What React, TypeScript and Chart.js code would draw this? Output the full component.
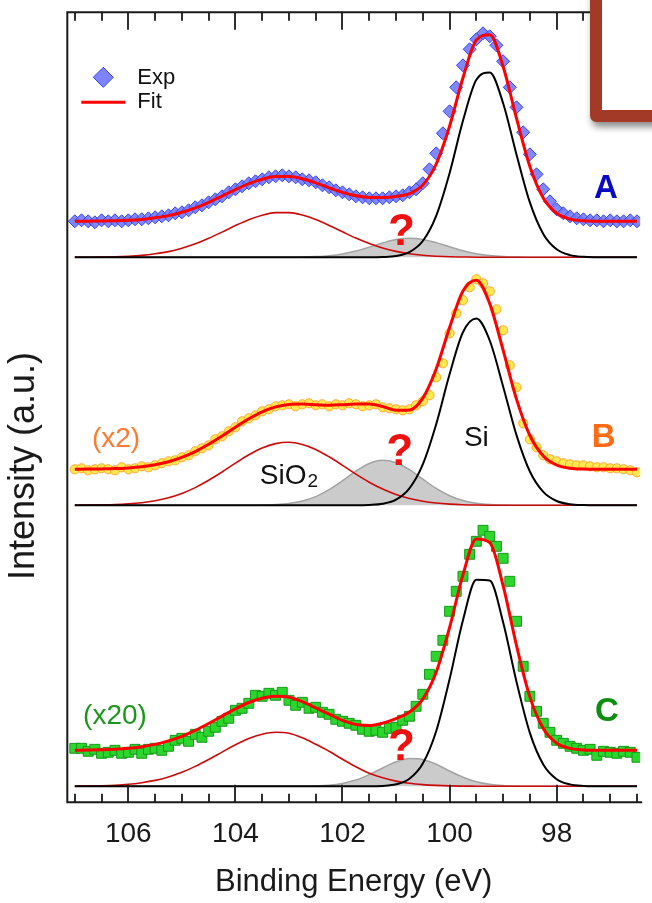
import React, { useEffect, useRef } from 'react';
import { Chart, registerables } from 'chart.js';

Chart.register(...registerables);

const FONT = '"Liberation Sans", Arial, Helvetica, sans-serif';

// ---------- axis ----------
const X_MIN = 96.44;
const X_MAX = 107.14;
const Y_MIN = 0;
const Y_MAX = 790;
const X_TITLE = 'Binding Energy (eV)';
const Y_TITLE = 'Intensity (a.u.)';

// vertical offsets (baselines) of the three stacked spectra
const OFFSET_A = 545;
const OFFSET_B = 297;
const OFFSET_C = 16;

// energy grid for fit / component curves (eV)
const GRID = [107, 106.75, 106.5, 106.25, 106, 105.75, 105.5, 105.25, 105, 104.75, 104.5, 104.25, 104, 103.75, 103.5, 103.25, 103, 102.75, 102.5, 102.25, 102, 101.75, 101.5, 101.25, 101, 100.75, 100.5, 100.25, 100, 99.75, 99.5, 99.25, 99, 98.75, 98.5, 98.25, 98, 97.75, 97.5, 97.25, 97, 96.75, 96.5];

// energy channels of the measured points (eV)
const EXP_E = [107, 106.875, 106.75, 106.625, 106.5, 106.375, 106.25, 106.125, 106, 105.875, 105.75, 105.625, 105.5, 105.375, 105.25, 105.125, 105, 104.875, 104.75, 104.625, 104.5, 104.375, 104.25, 104.125, 104, 103.875, 103.75, 103.625, 103.5, 103.375, 103.25, 103.125, 103, 102.875, 102.75, 102.625, 102.5, 102.375, 102.25, 102.125, 102, 101.875, 101.75, 101.625, 101.5, 101.375, 101.25, 101.125, 101, 100.875, 100.75, 100.625, 100.5, 100.375, 100.25, 100.125, 100, 99.875, 99.75, 99.625, 99.5, 99.375, 99.25, 99.125, 99, 98.875, 98.75, 98.625, 98.5, 98.375, 98.25, 98.125, 98, 97.875, 97.75, 97.625, 97.5, 97.375, 97.25, 97.125, 97, 96.875, 96.75, 96.625, 96.5];

// ---------- spectrum A ----------
const A_EXP = [
  36, 37, 36, 35, 37, 36, 37, 36, 37, 38,
  38, 39, 40, 41, 42, 44, 45, 47, 50, 52,
  55, 58, 61, 65, 68, 71, 74, 76, 78, 80,
  81, 82, 81, 80, 78, 77, 75, 72, 70, 67,
  65, 63, 61, 60, 59, 59, 59, 60, 61, 62,
  65, 68, 74, 88, 104, 124, 146, 170, 192, 208,
  218, 224, 221, 212, 196, 170, 150, 125, 103, 83,
  68, 56, 48, 44, 41, 39, 38, 37, 37, 36,
  37, 36, 36, 37, 36,
];
const A_FIT = [36.0, 36.1, 36.3, 36.5, 37.0, 37.9, 39.5, 41.7, 45.1, 49.5, 55.0, 61.2, 67.7, 73.6, 78.1, 80.7, 80.7, 78.5, 74.5, 69.5, 64.9, 61.5, 59.9, 59.8, 60.9, 63.7, 72.2, 93.3, 131.1, 179.5, 217.3, 222.6, 190.8, 139.1, 90.9, 59.4, 44.0, 38.2, 36.5, 36.1, 36.0, 36.0, 36.0];
const A_SIO2 = [0.1, 0.1, 0.3, 0.5, 1.0, 1.9, 3.5, 5.7, 9.1, 13.5, 19.0, 25.2, 31.7, 37.6, 42.1, 44.7, 44.7, 42.3, 37.8, 31.9, 25.5, 19.2, 13.7, 9.2, 5.9, 3.5, 2.0, 1.1, 0.5, 0.3, 0.1, 0, 0, 0, 0, 0, 0, 0, 0, 0, 0, 0, 0];
const A_SUB = [0, 0, 0, 0, 0, 0, 0, 0, 0, 0, 0, 0, 0, 0, 0, 0, 0, 0.2, 0.7, 1.6, 3.4, 6.3, 10.2, 14.3, 17.7, 19.0, 17.9, 14.7, 10.5, 6.6, 3.6, 1.7, 0.7, 0.3, 0, 0, 0, 0, 0, 0, 0, 0, 0];
const A_SI = [0, 0, 0, 0, 0, 0, 0, 0, 0, 0, 0, 0, 0, 0, 0, 0, 0, 0, 0, 0, 0, 0, 0, 0.3, 1.3, 5.2, 16.3, 41.5, 84.1, 136.6, 177.6, 184.9, 154.1, 102.8, 54.9, 23.4, 8.0, 2.2, 0.5, 0.1, 0, 0, 0];

// ---------- spectrum B (x2) ----------
const B_EXP = [
  36, 37, 35, 36, 37, 36, 35, 38, 36, 37,
  39, 38, 40, 42, 44, 45, 48, 50, 54, 57,
  60, 66, 69, 74, 78, 84, 87, 90, 94, 96,
  99, 100, 101, 99, 101, 102, 100, 101, 99, 101,
  100, 102, 101, 99, 100, 101, 98, 97, 96, 95,
  96, 100, 104, 110, 128, 142, 172, 192, 205, 218,
  226, 222, 214, 196, 175, 140, 118, 82, 66, 58,
  50, 46, 44, 42, 41, 40, 40, 39, 38, 38,
  37, 37, 36, 35, 33,
];
const B_FIT = [36.1, 36.2, 36.4, 36.7, 37.4, 38.6, 40.6, 43.6, 47.9, 53.7, 61.0, 69.3, 78.1, 86.5, 93.5, 98.4, 100.8, 101.2, 100.6, 100.1, 100.6, 101.3, 101.3, 98.8, 95.1, 95.4, 107.2, 136.3, 177.8, 214.4, 225.1, 201.7, 155.2, 106.2, 69.8, 49.4, 40.3, 37.1, 36.2, 36.0, 36.0, 36.0, 36.0];
const B_SIO2 = [0.1, 0.2, 0.4, 0.7, 1.4, 2.6, 4.6, 7.6, 11.9, 17.7, 25.0, 33.3, 42.1, 50.5, 57.3, 61.7, 63.0, 60.9, 55.9, 48.5, 40.0, 31.2, 23.1, 16.2, 10.8, 6.8, 4.1, 2.3, 1.2, 0.6, 0.3, 0.1, 0, 0, 0, 0, 0, 0, 0, 0, 0, 0, 0];
const B_SUB = [0, 0, 0, 0, 0, 0, 0, 0, 0, 0, 0, 0, 0, 0, 0.2, 0.7, 1.8, 4.3, 8.7, 15.6, 24.6, 34.1, 41.8, 45.0, 42.6, 35.6, 26.1, 16.9, 9.6, 4.8, 2.1, 0.8, 0.3, 0, 0, 0, 0, 0, 0, 0, 0, 0, 0];
const B_SI = [0, 0, 0, 0, 0, 0, 0, 0, 0, 0, 0, 0, 0, 0, 0, 0, 0, 0, 0, 0, 0, 0, 0.4, 1.6, 5.7, 17.0, 41.0, 81.1, 131.0, 173.0, 186.7, 164.8, 118.9, 70.2, 33.8, 13.4, 4.3, 1.1, 0.2, 0, 0, 0, 0];

// ---------- spectrum C (x20) ----------
const C_EXP = [
  38, 38, 35, 37, 33, 34, 36, 33, 34, 37,
  33, 37, 38, 36, 40, 46, 48, 45, 52, 49,
  55, 59, 65, 68, 76, 78, 83, 91, 90, 93,
  91, 94, 86, 81, 84, 78, 79, 74, 72, 67,
  65, 63, 61, 57, 55, 56, 54, 58, 59, 66,
  70, 80, 92, 112, 130, 146, 175, 195, 210, 232,
  245, 256, 250, 240, 228, 205, 165, 120, 90, 75,
  63, 54, 46, 43, 40, 38, 36, 37, 31, 35,
  34, 33, 35, 34, 29,
];
const C_FIT = [36.1, 36.3, 36.6, 37.1, 38.0, 39.6, 41.9, 45.4, 50.0, 55.9, 62.8, 70.2, 77.5, 83.8, 88.1, 90.0, 89.0, 84.6, 78.4, 72.1, 65.9, 61.8, 60.7, 63.2, 67.7, 74.3, 87.2, 114.0, 158.7, 211.4, 247.3, 243.7, 200.7, 140.8, 89.4, 57.8, 43.1, 37.9, 36.4, 36.1, 36.0, 36.0, 36.0];
const C_SIO2 = [0.1, 0.3, 0.6, 1.1, 2.0, 3.6, 5.9, 9.4, 14.0, 19.9, 26.8, 34.2, 41.5, 47.8, 52.1, 54.0, 53.0, 48.5, 42.0, 35.0, 27.0, 19.5, 13.0, 8.5, 5.2, 3.0, 1.7, 0.9, 0.4, 0.2, 0.1, 0, 0, 0, 0, 0, 0, 0, 0, 0, 0, 0, 0];
const C_SUB = [0, 0, 0, 0, 0, 0, 0, 0, 0, 0, 0, 0, 0, 0, 0, 0, 0, 0, 0.4, 1.1, 2.9, 6.3, 11.7, 18.3, 24.5, 27.8, 26.8, 22.0, 15.3, 9.1, 4.6, 2.0, 0.7, 0.2, 0, 0, 0, 0, 0, 0, 0, 0, 0];
const C_SI = [0, 0, 0, 0, 0, 0, 0, 0, 0, 0, 0, 0, 0, 0, 0, 0, 0, 0, 0, 0, 0, 0, 0, 0.4, 2.0, 7.5, 22.7, 55.1, 107.0, 166.1, 206.6, 205.7, 164.0, 104.6, 53.4, 21.8, 7.1, 1.9, 0.4, 0.1, 0, 0, 0];

// ---------- annotation texts (energy, intensity in axis units) ----------
const LABELS = [
  { text: 'A', e: 97.08, v: 613, color: '#0A0AC4', size: 33, bold: true },
  { text: 'B', e: 97.12, v: 364, color: '#FF6A14', size: 33, bold: true },
  { text: 'C', e: 97.06, v: 90, color: '#0E8E0E', size: 33, bold: true },
  { text: '(x2)', e: 106.23, v: 363, color: '#FF7A2E', size: 28, bold: false },
  { text: '(x20)', e: 106.25, v: 86, color: '#1E961E', size: 28, bold: false },
  { text: 'Si', e: 99.5, v: 364, color: '#111111', size: 28, bold: false },
  { text: '?', e: 100.9, v: 569, color: '#F01010', size: 44, bold: true },
  { text: '?', e: 100.93, v: 349, color: '#F01010', size: 44, bold: true },
  { text: '?', e: 100.9, v: 54, color: '#F01010', size: 44, bold: true },
];
const SIO2_LABEL = { e: 103.01, v: 326 };
const Y_TITLE_POS = { x: 24, y: 466, size: 36 };

const AXIS_COLOR = '#1a1a1a';

function toPts(xs: number[], ys: number[], off: number) {
  return ys.map((y, i) => ({ x: xs[i], y: y + off }));
}

type Panel = {
  exp: number[]; fit: number[]; sio2: number[]; sub: number[]; si: number[]; off: number;
  marker: { style: string; radius: number; bg: string; border: string };
};

const PANELS: Panel[] = [
  { exp: A_EXP, fit: A_FIT, sio2: A_SIO2, sub: A_SUB, si: A_SI, off: OFFSET_A,
    marker: { style: 'rectRot', radius: 6.5, bg: 'rgba(112,118,255,0.88)', border: '#3444F2' } },
  { exp: B_EXP, fit: B_FIT, sio2: B_SIO2, sub: B_SUB, si: B_SI, off: OFFSET_B,
    marker: { style: 'circle', radius: 4.6, bg: '#FFE94E', border: '#FFA630' } },
  { exp: C_EXP, fit: C_FIT, sio2: C_SIO2, sub: C_SUB, si: C_SI, off: OFFSET_C,
    marker: { style: 'rect', radius: 7, bg: '#2CD62C', border: '#17991A' } },
];

function buildDatasets() {
  const ds: any[] = [];
  PANELS.forEach((p) => {
    ds.push({
      label: 'sub', data: toPts(GRID, p.sub, p.off), borderColor: '#A3A3A3', borderWidth: 1.5,
      backgroundColor: 'rgba(200,200,200,0.95)', fill: { value: p.off }, pointRadius: 0,
      cubicInterpolationMode: 'monotone', order: 4,
    });
    ds.push({
      label: 'SiO2', data: toPts(GRID, p.sio2, p.off), borderColor: '#CC0A0A', borderWidth: 1.6,
      fill: false, pointRadius: 0, cubicInterpolationMode: 'monotone', order: 3,
    });
    ds.push({
      label: 'Si', data: toPts(GRID, p.si, p.off), borderColor: '#000000', borderWidth: 2,
      fill: false, pointRadius: 0, cubicInterpolationMode: 'monotone', order: 2,
    });
    ds.push({
      label: 'Exp', data: toPts(EXP_E, p.exp, p.off), showLine: false,
      pointStyle: p.marker.style, pointRadius: p.marker.radius,
      pointBackgroundColor: p.marker.bg, pointBorderColor: p.marker.border, pointBorderWidth: 1,
      order: 1,
    });
    ds.push({
      label: 'Fit', data: toPts(GRID, p.fit, p.off), borderColor: '#FF0000', borderWidth: 3,
      fill: false, pointRadius: 0, cubicInterpolationMode: 'monotone', order: 0,
    });
  });
  return ds;
}

const decorPlugin = {
  id: 'decor',
  afterDraw(chart: any) {
    const { ctx, chartArea: ca, scales } = chart;
    const xs = scales.x;
    const ys = scales.y;
    ctx.save();

    // frame
    ctx.strokeStyle = AXIS_COLOR;
    ctx.lineWidth = 2;
    ctx.beginPath();
    ctx.moveTo(ca.right + 2, ca.top);
    ctx.lineTo(ca.left, ca.top);
    ctx.lineTo(ca.left, ca.bottom);
    ctx.lineTo(ca.right + 2, ca.bottom);
    ctx.stroke();

    // inward ticks top & bottom
    ctx.lineWidth = 1.8;
    xs.ticks.forEach((t: any) => {
      const v = t.value;
      if (Math.abs(v * 2 - Math.round(v * 2)) > 1e-6) return;
      const major = Math.abs(v / 2 - Math.round(v / 2)) < 1e-6;
      const len = major ? 17.5 : 8.5;
      const px = Math.round(xs.getPixelForValue(v));
      ctx.beginPath();
      ctx.moveTo(px, ca.bottom);
      ctx.lineTo(px, ca.bottom - len);
      ctx.moveTo(px, ca.top);
      ctx.lineTo(px, ca.top + len);
      ctx.stroke();
    });

    // y axis title
    ctx.save();
    ctx.translate(Y_TITLE_POS.x, Y_TITLE_POS.y);
    ctx.rotate(-Math.PI / 2);
    ctx.font = `${Y_TITLE_POS.size}px ${FONT}`;
    ctx.fillStyle = AXIS_COLOR;
    ctx.textAlign = 'center';
    ctx.textBaseline = 'middle';
    ctx.fillText(Y_TITLE, 0, 0);
    ctx.restore();

    // annotation texts
    ctx.textAlign = 'center';
    ctx.textBaseline = 'middle';
    LABELS.forEach((l) => {
      ctx.font = `${l.bold ? 'bold ' : ''}${l.size}px ${FONT}`;
      ctx.fillStyle = l.color;
      ctx.fillText(l.text, xs.getPixelForValue(l.e), ys.getPixelForValue(l.v));
    });
    // SiO2 with subscript
    {
      const cx = xs.getPixelForValue(SIO2_LABEL.e);
      const cy = ys.getPixelForValue(SIO2_LABEL.v);
      ctx.font = `28px ${FONT}`;
      const w1 = ctx.measureText('SiO').width;
      ctx.font = `19px ${FONT}`;
      const w2 = ctx.measureText('2').width;
      const x0 = cx - (w1 + w2) / 2;
      ctx.textAlign = 'left';
      ctx.fillStyle = '#111111';
      ctx.font = `28px ${FONT}`;
      ctx.fillText('SiO', x0, cy);
      ctx.font = `19px ${FONT}`;
      ctx.fillText('2', x0 + w1 + 1, cy + 5);
    }

    // legend
    const lx = ca.left;
    const ly = ca.top;
    ctx.fillStyle = 'rgba(112,118,255,0.9)';
    ctx.strokeStyle = '#3444F2';
    ctx.lineWidth = 1;
    const dx = lx + 36, dy = ly + 65;
    ctx.beginPath();
    ctx.moveTo(dx - 10, dy);
    ctx.lineTo(dx, dy - 10);
    ctx.lineTo(dx + 10, dy);
    ctx.lineTo(dx, dy + 10);
    ctx.closePath();
    ctx.fill();
    ctx.stroke();
    ctx.strokeStyle = '#FF0000';
    ctx.lineWidth = 3;
    ctx.beginPath();
    ctx.moveTo(lx + 14, ly + 90);
    ctx.lineTo(lx + 58, ly + 90);
    ctx.stroke();
    ctx.fillStyle = '#111111';
    ctx.font = `22px ${FONT}`;
    ctx.textAlign = 'left';
    ctx.textBaseline = 'middle';
    ctx.fillText('Exp', lx + 70, dy + 1);
    ctx.fillText('Fit', lx + 70, ly + 90);

    // brown callout box (top-right)
    ctx.shadowColor = 'rgba(0,0,0,0.45)';
    ctx.shadowBlur = 7;
    ctx.shadowOffsetX = 2;
    ctx.shadowOffsetY = 5;
    ctx.fillStyle = '#A23A27';
    const bx = 590, by = -40, bw = 140, bh = 162, r = 7;
    ctx.beginPath();
    ctx.moveTo(bx, by);
    ctx.lineTo(bx + bw, by);
    ctx.lineTo(bx + bw, by + bh);
    ctx.lineTo(bx + r, by + bh);
    ctx.quadraticCurveTo(bx, by + bh, bx, by + bh - r);
    ctx.closePath();
    ctx.fill();
    ctx.shadowColor = 'transparent';
    ctx.shadowBlur = 0;
    ctx.shadowOffsetX = 0;
    ctx.shadowOffsetY = 0;
    ctx.fillStyle = '#FFFFFF';
    ctx.fillRect(602, by, 200, 110 - by);

    ctx.restore();
  },
};

export default function App() {
  const ref = useRef<HTMLCanvasElement | null>(null);
  useEffect(() => {
    document.body.style.margin = '0';
    const canvas = ref.current;
    if (!canvas) return;
    const chart = new Chart(canvas, {
      type: 'line',
      data: { datasets: buildDatasets() },
      options: {
        animation: false,
        responsive: false,
        devicePixelRatio: 1,
        layout: { padding: { top: 12.3, left: 0, right: 0, bottom: 0 } },
        plugins: { legend: { display: false }, tooltip: { enabled: false } },
        elements: { line: { tension: 0 } },
        scales: {
          x: {
            type: 'linear', min: X_MIN, max: X_MAX, reverse: true,
            grid: { display: false, drawTicks: false },
            border: { display: false },
            ticks: {
              stepSize: 0.5, includeBounds: false, autoSkip: false, maxRotation: 0, minRotation: 0,
              padding: 15, color: AXIS_COLOR, font: { family: FONT, size: 28 },
              callback: (v: any) => (Math.abs(v / 2 - Math.round(v / 2)) < 1e-6 ? String(Math.round(v)) : ''),
            },
            title: {
              display: true, text: X_TITLE, color: AXIS_COLOR,
              font: { family: FONT, size: 31 }, padding: { top: 0, bottom: 2 },
            },
            afterFit: (s: any) => { s.height = 100.7; },
          },
          y: {
            type: 'linear', min: Y_MIN, max: Y_MAX,
            grid: { display: false, drawTicks: false },
            border: { display: false },
            ticks: { display: false },
            title: { display: false },
            afterFit: (s: any) => { s.width = 67.3; },
          },
        },
      } as any,
      plugins: [decorPlugin],
    });
    return () => chart.destroy();
  }, []);
  return (
    <div style={{ width: 652, height: 903, position: 'relative' }}>
      <canvas ref={ref} width={652} height={903} style={{ display: 'block', width: 652, height: 903 }} />
    </div>
  );
}
